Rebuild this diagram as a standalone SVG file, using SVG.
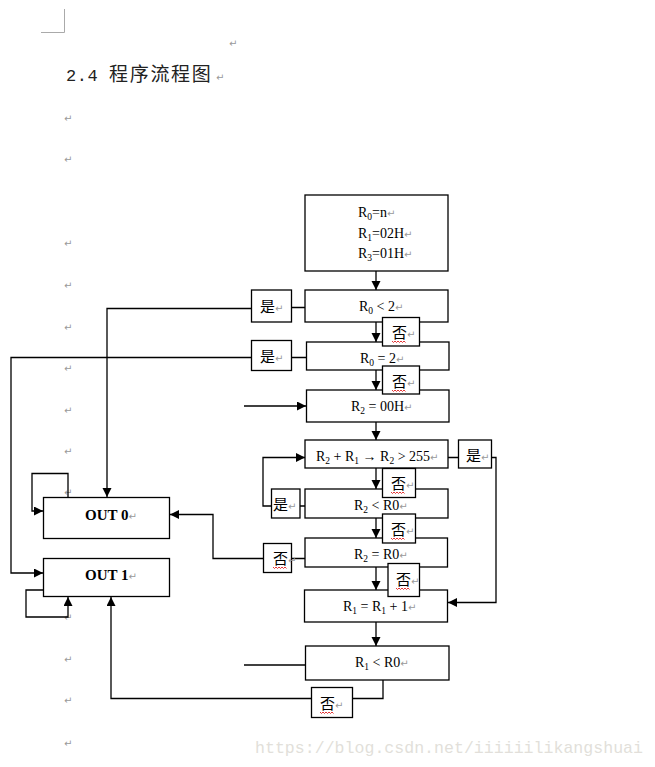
<svg xmlns="http://www.w3.org/2000/svg" width="655" height="767" viewBox="0 0 655 767">
<defs>
<marker id="ah" markerUnits="userSpaceOnUse" markerWidth="10" markerHeight="10" refX="9" refY="4.5" orient="auto"><path d="M0,0 L9,4.5 L0,9 z" fill="#000"/></marker>
<style>
.b{fill:#fff;stroke:#000;stroke-width:1.3}
.l{fill:none;stroke:#000;stroke-width:1.3}
.a{marker-end:url(#ah)}
.t{font-family:"Liberation Serif",serif;font-size:14px;fill:#000}
.o{font-family:"Liberation Serif",serif;font-size:15px;font-weight:bold;fill:#000}
.s{font-size:9.5px}
.c{font-family:"Noto Sans CJK SC",sans-serif;font-size:15px;fill:#000}
.p{font-family:"DejaVu Sans",sans-serif;font-size:10px;fill:#999;font-weight:normal}
.w{fill:none;stroke:#e02020;stroke-width:0.9}
</style>
</defs>
<rect width="655" height="767" fill="#fff"/>
<g id="page">
<path d="M41,32.5 H64.5 V9" fill="none" stroke="#aaa" stroke-width="1"/>
<text x="229" y="47" class="p">↵</text>
<text x="66" y="81" font-family="Liberation Mono,monospace" font-size="17" letter-spacing="0.5" fill="#222">2.4</text>
<text x="109" y="81" font-family="Noto Sans CJK SC,sans-serif" font-size="19" letter-spacing="1.7" fill="#222">程序流程图</text>
<text x="216" y="81" class="p">↵</text>
<g class="p">
<text x="64" y="122">↵</text><text x="64" y="163">↵</text><text x="64" y="247">↵</text><text x="64" y="289">↵</text>
<text x="64" y="331">↵</text><text x="64" y="372">↵</text><text x="64" y="414">↵</text><text x="64" y="455">↵</text>
<text x="64" y="496">↵</text><text x="64" y="621">↵</text><text x="64" y="663">↵</text><text x="64" y="704">↵</text><text x="64" y="747">↵</text>
</g>
<text x="255" y="753" font-family="Liberation Mono,monospace" font-size="17" textLength="388" lengthAdjust="spacingAndGlyphs" fill="#e2dfda">https://blog.csdn.net/iiiiiilikangshuai</text>
</g>
<g id="connectors">
<path class="l a" d="M376,271 V290"/>
<path class="l a" d="M376,322 V342"/>
<path class="l a" d="M376,370 V390"/>
<path class="l a" d="M244,406 H306"/>
<path class="l a" d="M376,422 V440"/>
<path class="l a" d="M376,468 V489"/>
<path class="l a" d="M376,518 V538"/>
<path class="l a" d="M376,567 V590"/>
<path class="l a" d="M376,622 V646"/>
<path class="l a" d="M305,307.5 H291 M251,308.5 H107 V497"/>
<path class="l a" d="M306,357.5 H291 M251,357.5 H11 V573 H43"/>
<path class="l a" d="M448,457.5 H458 M491,457.5 H496 V602.5 H448"/>
<path class="l a" d="M305,506 H300 M271,506 H263 V457.5 H305"/>
<path class="l a" d="M312,558.5 H291 M263,558.5 H213 V514.5 H170"/>
<path class="l" d="M244,665 H305"/>
<path class="l a" d="M383,674 V698.5 H352 M311,698.5 H111 V597"/>
<path class="l a" d="M68,497 V473.5 H32 V511 H43"/>
<path class="l a" d="M43,590 H26 V617 H68 V597"/>
</g>
<g id="n_init">
<rect class="b" x="305" y="195" width="143" height="76"/>
<text class="t" x="358" y="217">R<tspan class="s" dy="3">0</tspan><tspan dy="-3">=n</tspan><tspan class="p">↵</tspan></text>
<text class="t" x="358" y="237.5">R<tspan class="s" dy="3">1</tspan><tspan dy="-3">=02H</tspan><tspan class="p">↵</tspan></text>
<text class="t" x="358" y="258">R<tspan class="s" dy="3">3</tspan><tspan dy="-3">=01H</tspan><tspan class="p">↵</tspan></text>
</g>
<g id="n_r0lt2">
<rect class="b" x="305" y="290" width="143" height="32"/>
<text class="t" x="359" y="311">R<tspan class="s" dy="3">0</tspan><tspan dy="-3"> &lt; 2</tspan><tspan class="p">↵</tspan></text>
</g>
<g id="n_r0eq2">
<rect class="b" x="306.5" y="342" width="142.5" height="28"/>
<text class="t" x="360" y="363">R<tspan class="s" dy="3">0</tspan><tspan dy="-3"> = 2</tspan><tspan class="p">↵</tspan></text>
</g>
<g id="n_r2init">
<rect class="b" x="306.5" y="390" width="142.5" height="32"/>
<text class="t" x="351" y="410.5">R<tspan class="s" dy="3">2</tspan><tspan dy="-3"> = 00H</tspan><tspan class="p">↵</tspan></text>
</g>
<g id="n_add">
<rect class="b" x="305" y="440" width="143" height="28"/>
<text class="t" x="316" y="461">R<tspan class="s" dy="3">2</tspan><tspan dy="-3"> + R</tspan><tspan class="s" dy="3">1</tspan><tspan dy="-3">  → R</tspan><tspan class="s" dy="3">2</tspan><tspan dy="-3"> &gt; 255</tspan><tspan class="p">↵</tspan></text>
</g>
<g id="n_r2ltr0">
<rect class="b" x="305" y="489" width="143" height="29"/>
<text class="t" x="354" y="510">R<tspan class="s" dy="3">2</tspan><tspan dy="-3"> &lt; R0</tspan><tspan class="p">↵</tspan></text>
</g>
<g id="n_r2eqr0">
<rect class="b" x="305" y="538" width="142.5" height="29"/>
<text class="t" x="354" y="559">R<tspan class="s" dy="3">2</tspan><tspan dy="-3"> = R0</tspan><tspan class="p">↵</tspan></text>
</g>
<g id="n_inc">
<rect class="b" x="304.5" y="590" width="143" height="32"/>
<text class="t" x="343" y="611">R<tspan class="s" dy="3">1</tspan><tspan dy="-3"> = R</tspan><tspan class="s" dy="3">1</tspan><tspan dy="-3"> + 1</tspan><tspan class="p">↵</tspan></text>
</g>
<g id="n_r1ltr0">
<rect class="b" x="305.5" y="646" width="143.5" height="34"/>
<text class="t" x="355" y="667">R<tspan class="s" dy="3">1</tspan><tspan dy="-3"> &lt; R0</tspan><tspan class="p">↵</tspan></text>
</g>
<g id="n_out0">
<rect class="b" x="43.5" y="497.5" width="126" height="41"/>
<text class="o" x="85" y="519.5">OUT 0<tspan class="p">↵</tspan></text>
</g>
<g id="n_out1">
<rect class="b" x="43.5" y="558.5" width="126" height="38"/>
<text class="o" x="85" y="579.5">OUT 1<tspan class="p">↵</tspan></text>
</g>
<g id="yes1"><rect class="b" x="251.5" y="290" width="40" height="32"/><text class="c" x="260" y="311.5">是<tspan class="p">↵</tspan></text></g>
<g id="yes2"><rect class="b" x="251.5" y="340.5" width="40" height="30"/><text class="c" x="260" y="362">是<tspan class="p">↵</tspan></text></g>
<g id="yes3"><rect class="b" x="458.5" y="440" width="33" height="28"/><text class="c" x="466" y="461">是<tspan class="p">↵</tspan></text></g>
<g id="yes4"><rect class="b" x="271.5" y="489" width="28.5" height="29"/><text class="c" x="273" y="510">是<tspan class="p">↵</tspan></text></g>
<g id="no1"><rect class="b" x="382.5" y="317.5" width="37" height="28.5"/><text class="c" x="392" y="338">否<tspan class="p">↵</tspan></text><path class="w" d="M392,341 l1.5,1.5 l1.5,-1.5 l1.5,1.5 l1.5,-1.5 l1.5,1.5 l1.5,-1.5 l1.5,1.5 l1.5,-1.5 l1.5,1.5"/></g>
<g id="no2"><rect class="b" x="382.5" y="366" width="37" height="28"/><text class="c" x="392" y="387">否<tspan class="p">↵</tspan></text><path class="w" d="M392,390 l1.5,1.5 l1.5,-1.5 l1.5,1.5 l1.5,-1.5 l1.5,1.5 l1.5,-1.5 l1.5,1.5 l1.5,-1.5 l1.5,1.5"/></g>
<g id="no3"><rect class="b" x="382.5" y="468.5" width="33" height="29"/><text class="c" x="391" y="489">否<tspan class="p">↵</tspan></text><path class="w" d="M391,492 l1.5,1.5 l1.5,-1.5 l1.5,1.5 l1.5,-1.5 l1.5,1.5 l1.5,-1.5 l1.5,1.5 l1.5,-1.5 l1.5,1.5"/></g>
<g id="no4"><rect class="b" x="382.5" y="514" width="33" height="29"/><text class="c" x="391" y="535">否<tspan class="p">↵</tspan></text><path class="w" d="M391,538 l1.5,1.5 l1.5,-1.5 l1.5,1.5 l1.5,-1.5 l1.5,1.5 l1.5,-1.5 l1.5,1.5 l1.5,-1.5 l1.5,1.5"/></g>
<g id="no5"><rect class="b" x="263.5" y="543.5" width="28" height="29"/><text class="c" x="273" y="564">否<tspan class="p">↵</tspan></text><path class="w" d="M273,567 l1.5,1.5 l1.5,-1.5 l1.5,1.5 l1.5,-1.5 l1.5,1.5 l1.5,-1.5 l1.5,1.5 l1.5,-1.5 l1.5,1.5"/></g>
<g id="no6"><rect class="b" x="388" y="563.5" width="31.5" height="33"/><text class="c" x="396" y="585">否<tspan class="p">↵</tspan></text><path class="w" d="M396,588 l1.5,1.5 l1.5,-1.5 l1.5,1.5 l1.5,-1.5 l1.5,1.5 l1.5,-1.5 l1.5,1.5 l1.5,-1.5 l1.5,1.5"/></g>
<g id="no7"><rect class="b" x="311.5" y="687.5" width="41" height="30"/><text class="c" x="320" y="709">否<tspan class="p">↵</tspan></text><path class="w" d="M320,712 l1.5,1.5 l1.5,-1.5 l1.5,1.5 l1.5,-1.5 l1.5,1.5 l1.5,-1.5 l1.5,1.5 l1.5,-1.5 l1.5,1.5"/></g>
</svg>
